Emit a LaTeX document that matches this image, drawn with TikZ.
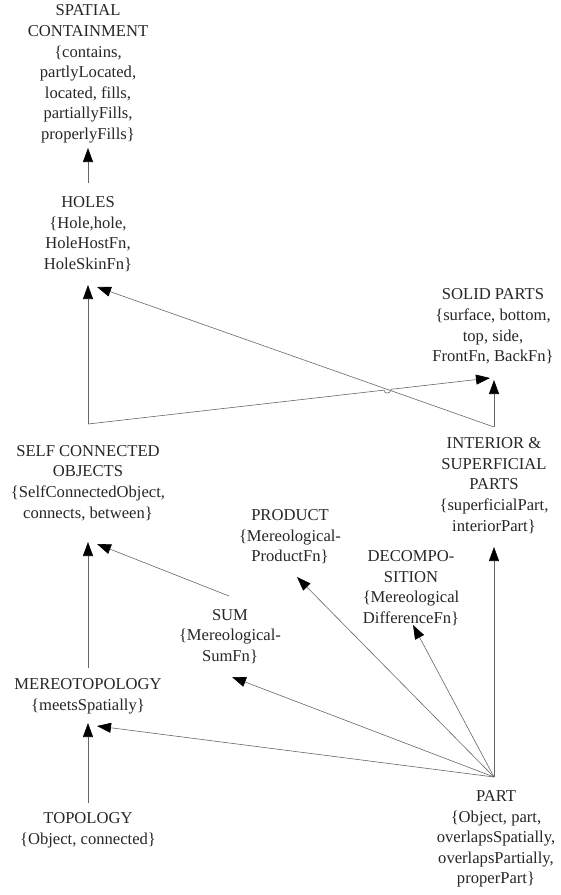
\documentclass[tikz,border=0pt]{standalone}
\usepackage{fontspec}
\setmainfont{Liberation Serif}
\usetikzlibrary{arrows.meta}

\begin{document}
\begin{tikzpicture}[x=1pt,y=-1pt,
  box/.style={align=center,inner sep=0pt,font=\fontsize{16.6}{20.6}\selectfont,text=black!85},
  link/.style={draw=black!60,line width=0.6pt},
  isa/.style={link,-{Triangle[length=14pt,width=10pt,black]}}]
\useasboundingbox (0,0) rectangle (561,895);

% concept blocks
\node[box] (spatial) at (88,74) {SPATIAL\\CONTAINMENT\\\{contains,\\partlyLocated,\\located, fills,\\partiallyFills,\\properlyFills\}};
\node[box] (holes) at (88,234) {HOLES\\\{Hole,hole,\\HoleHostFn,\\HoleSkinFn\}};
\node[box] (solid) at (493,326.5) {SOLID PARTS\\\{surface, bottom,\\top, side,\\FrontFn, BackFn\}};
\node[box] (self) at (88,483) {SELF CONNECTED\\OBJECTS\\\{SelfConnectedObject,\\connects, between\}};
\node[box] (interior) at (494,485.5) {INTERIOR \&\\SUPERFICIAL\\PARTS\\\{superficialPart,\\interiorPart\}};
\node[box] (product) at (290,537) {PRODUCT\\\{Mereological-\\ProductFn\}};
\node[box] (decomp) at (411,588) {DECOMPO-\\SITION\\\{Mereological\\DifferenceFn\}};
\node[box] (sum) at (230,636.5) {SUM\\\{Mereological-\\SumFn\}};
\node[box] (mereo) at (88,696) {MEREOTOPOLOGY\\\{meetsSpatially\}};
\node[box] (topo) at (88,830) {TOPOLOGY\\\{Object, connected\}};
\node[box] (part) at (496,839) {PART\\\{Object, part,\\overlapsSpatially,\\overlapsPartially,\\properPart\}};

% end points of the links
\coordinate (holesfoot) at (88,183);
\coordinate (spatialtip) at (88,148);
\coordinate (selfpt) at (88,424);
\coordinate (holestip) at (88,285);
\coordinate (holestipb) at (97,287);
\coordinate (intpt) at (494,427);
\coordinate (solidtip) at (490,378);
\coordinate (solidtipb) at (494,380);
\coordinate (hopa) at (384.1,390.1);
\coordinate (hopb) at (391.1,389.3);
\coordinate (mereotop) at (88,668);
\coordinate (selftip) at (88,542);
\coordinate (selftipb) at (97,544);
\coordinate (sumpt) at (229,596);
\coordinate (topotop) at (88,803);
\coordinate (mereotip) at (88,723);
\coordinate (mereotipb) at (97,726);
\coordinate (partpt) at (494,777);
\coordinate (sumtip) at (232,677);
\coordinate (producttip) at (297,577);
\coordinate (decomptip) at (413,625);
\coordinate (interiortip) at (494,547);

% links
\draw[isa] (holesfoot) -- (spatialtip);
\draw[isa] (selfpt) -- (holestip);
\draw[isa] (selfpt) -- (hopa) .. controls ([yshift=-4.5]hopa) and ([yshift=-4.5]hopb) .. (hopb) -- (solidtip);
\draw[isa] (intpt) -- (holestipb);
\draw[isa] (intpt) -- (solidtipb);
\draw[isa] (mereotop) -- (selftip);
\draw[isa] (sumpt) -- (selftipb);
\draw[isa] (topotop) -- (mereotip);
\draw[isa] (partpt) -- (mereotipb);
\draw[isa] (partpt) -- (sumtip);
\draw[isa] (partpt) -- (producttip);
\draw[isa] (partpt) -- (decomptip);
\draw[isa] (partpt) -- (interiortip);
\end{tikzpicture}
\end{document}
